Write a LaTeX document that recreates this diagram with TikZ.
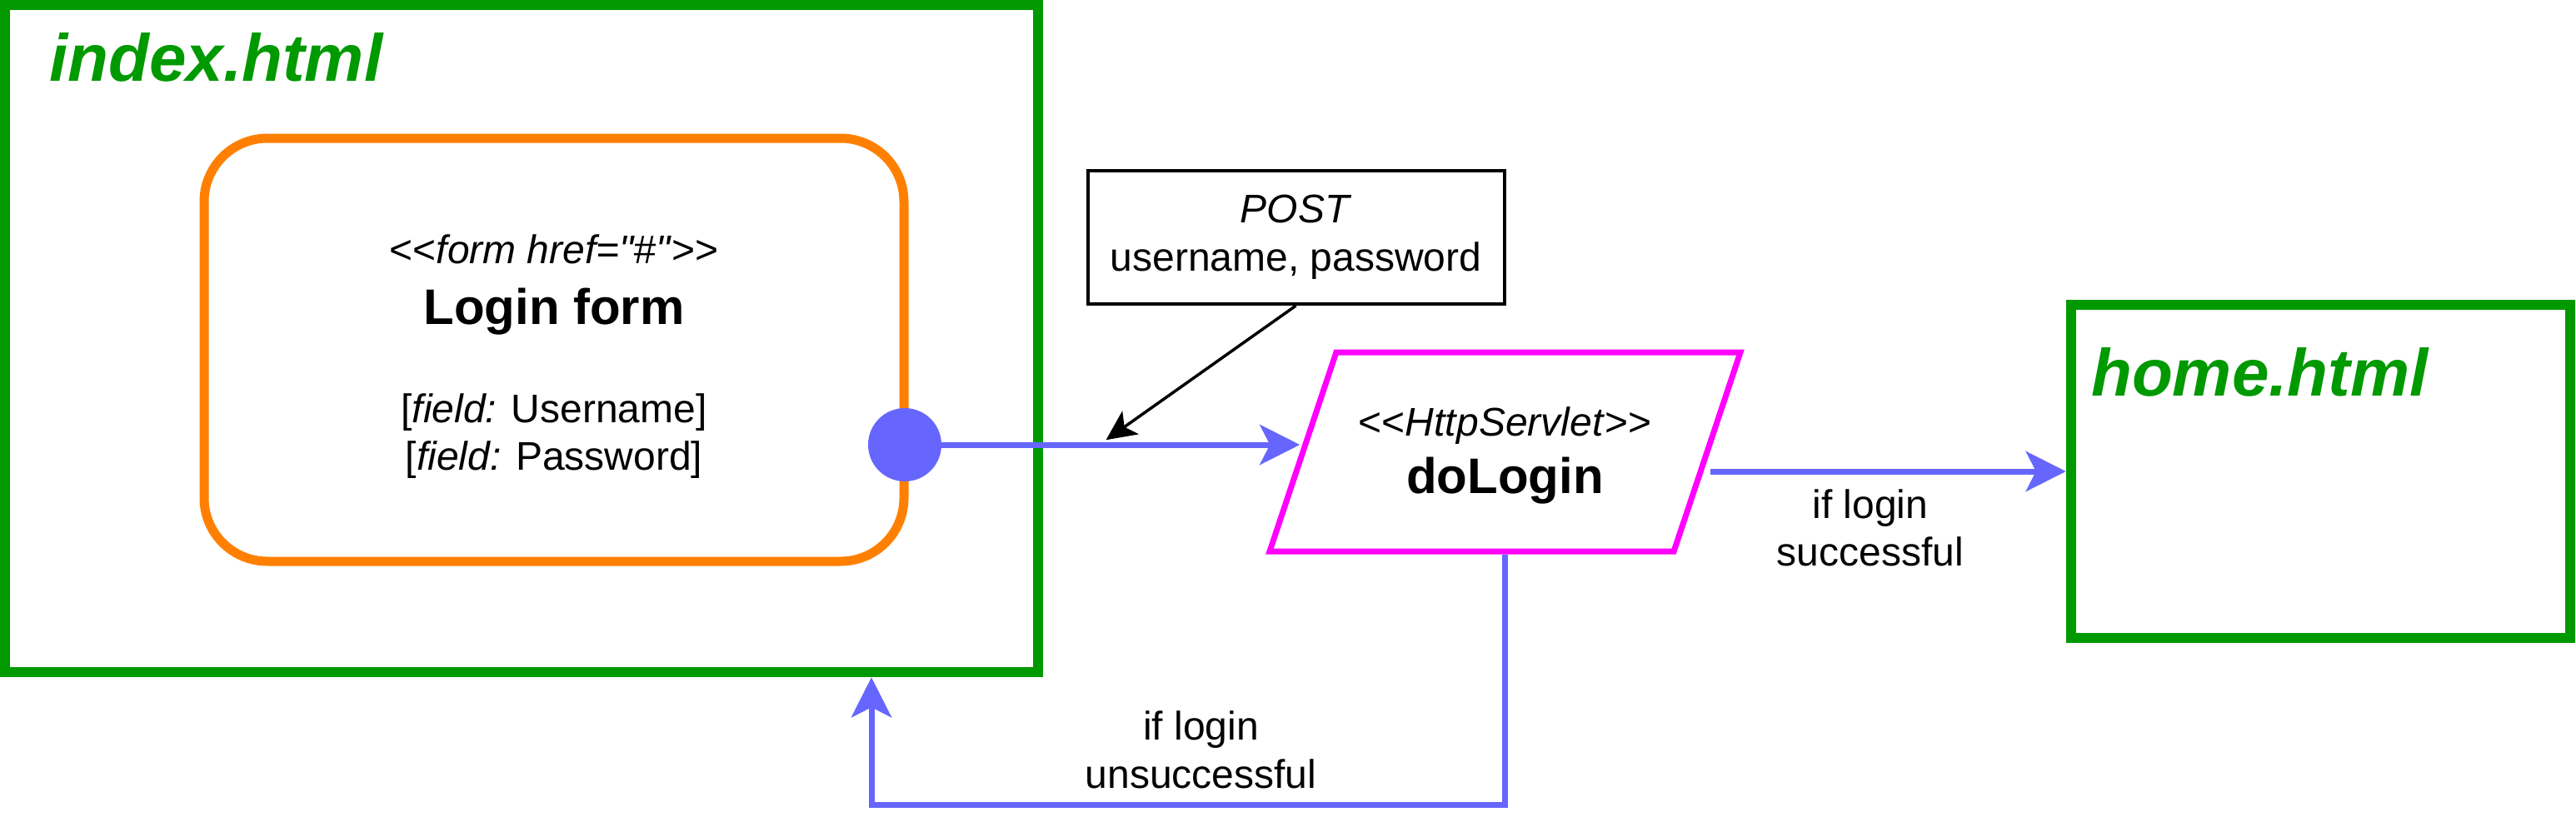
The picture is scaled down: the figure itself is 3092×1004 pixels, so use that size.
\documentclass[tikz,border=0pt]{standalone}
\usepackage{fontspec}
\setmainfont{Liberation Sans}[Ligatures=TeXOff]
\usetikzlibrary{shapes.geometric,arrows.meta,positioning}

\definecolor{pagegreen}{HTML}{009900}
\definecolor{formorange}{HTML}{FF8000}
\definecolor{servletpink}{HTML}{FF00FF}
\definecolor{flowblue}{HTML}{6666FF}

\newcommand{\stereotype}[1]{<\kern0pt<\textit{#1}>\kern0pt>}
\newcommand{\boxtitle}{\fontsize{60}{72}\selectfont\bfseries}

\begin{document}
\begin{tikzpicture}[x=1pt, y=-1pt,
    every node/.style={font=\fontsize{48}{57.6}\selectfont, inner sep=0pt, align=center},
    pagebox/.style={rectangle, draw=pagegreen, line width=12.5pt},
    pagetitle/.style={anchor=base west, text=pagegreen, font=\fontsize{80}{96}\selectfont\bfseries\itshape},
    formbox/.style={rectangle, draw=formorange, line width=11pt, rounded corners=76pt},
    servletbox/.style={trapezium, trapezium left angle=71.5, trapezium right angle=108.5,
        trapezium stretches body=true, inner ysep=57pt, draw=servletpink, line width=7pt},
    notebox/.style={rectangle, draw, line width=4pt},
    flow/.style={draw=flowblue, line width=7pt, -{Stealth[length=48pt, width=48pt, inset=12pt]}},
    hint/.style={line width=3.5pt, -{Stealth[length=36pt, width=34pt, inset=9pt]}}]
    \useasboundingbox (0,0) rectangle (3092,1004);

    % Define nodes
    \node [pagebox, minimum width=1240pt, minimum height=801pt] (index) at (626,406.5) {};
    \node [pagetitle] (indextitle) at (59,97) {index.html};
    \node [pagebox, minimum width=599pt, minimum height=400pt] (home) at (2785.5,566) {};
    \node [pagetitle] (hometitle) at (2510,475) {home.html};
    \node [formbox, minimum width=840pt, minimum height=508pt] (form) at (665,420)
        {\rule{0pt}{51pt}\stereotype{form href="\#"}\\[15.4pt] {\boxtitle Login form}\\[60.4pt]
         [\textit{field:} Username]\\ {[}\textit{field:} Password]};
    \node [circle, fill=flowblue, minimum size=88pt] (dot) at (1086,534) {};
    \node [servletbox, minimum width=565pt, minimum height=239pt] (servlet) at (1806.5,542.5)
        {\rule{0pt}{43pt}\stereotype{HttpServlet}\\[11.4pt] {\boxtitle doLogin}};
    \node [notebox, minimum width=500pt, minimum height=160pt] (post) at (1555.5,285)
        {\textit{POST}\\ username, password};
    \coordinate (back) at (1046,966);

    % Draw edges
    \draw [flow] (dot.east) -- coordinate[pos=0.44] (wire) (dot.east -| servlet.west);
    \draw [hint, shorten >=10pt] (post.south) -- (wire);
    \draw [flow] (servlet.east |- home.west) -- node[pos=0.45, below=18pt] (okcond) {if login\\ successful} (home.west);
    \draw [flow] (servlet.center |- servlet.south) |- node[pos=0.74, above=16pt] (failcond) {if login\\ unsuccessful} (back) -- (back |- index.south);
\end{tikzpicture}
\end{document}
